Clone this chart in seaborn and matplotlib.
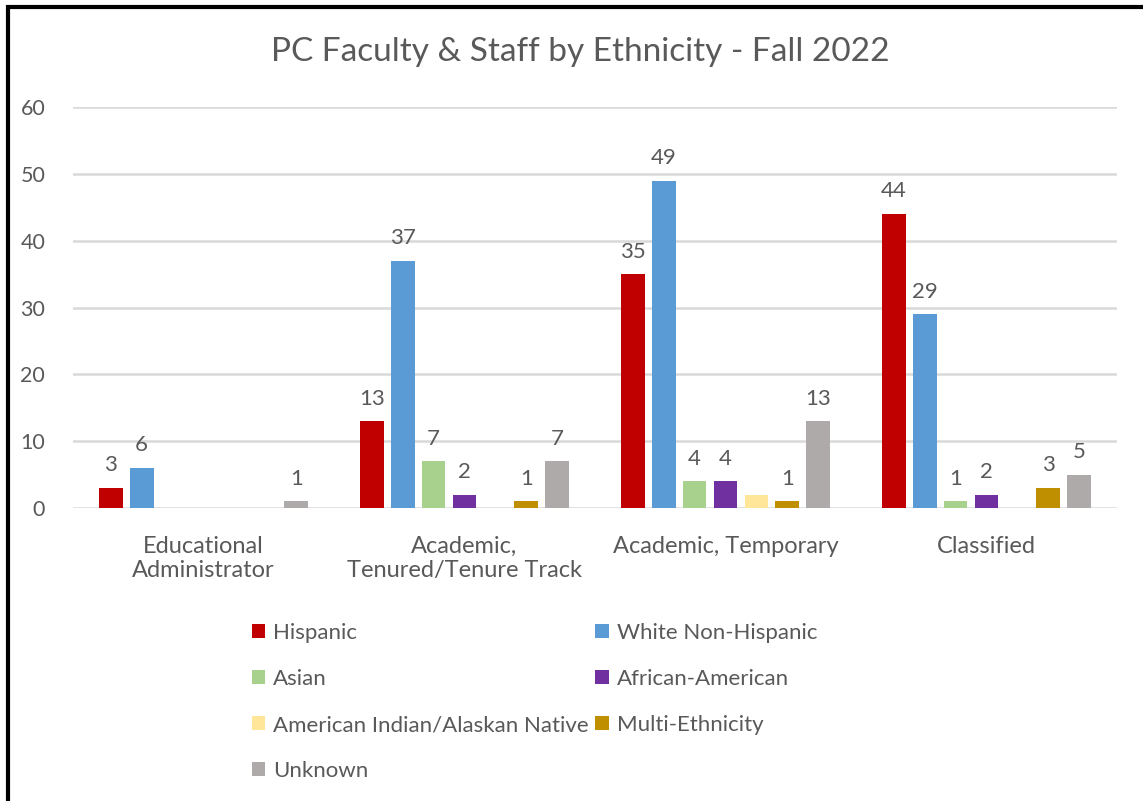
import matplotlib
matplotlib.use("Agg")
import matplotlib.pyplot as plt
from matplotlib.lines import Line2D
import seaborn as sns
import pandas as pd

categories = ["Educational\nAdministrator", "Academic,\nTenured/Tenure Track",
              "Academic, Temporary", "Classified"]
ethnicities = ["Hispanic", "White Non-Hispanic", "Asian", "African-American",
               "American Indian/Alaskan Native", "Multi-Ethnicity", "Unknown"]
hispanic = [3, 13, 35, 44]
white = [6, 37, 49, 29]
asian = [0, 7, 4, 1]
african = [0, 2, 4, 2]
am_indian = [0, 0, 2, 0]
multi = [0, 1, 1, 3]
unknown = [1, 7, 13, 5]
colors = ["#C00000", "#5B9BD5", "#A9D18E", "#7030A0", "#FFE699", "#BF8F00", "#AEAAAA"]

series = [hispanic, white, asian, african, am_indian, multi, unknown]
rows = []
for eth, vals in zip(ethnicities, series):
    for cat, v in zip(categories, vals):
        rows.append({"Category": cat, "Ethnicity": eth, "Count": v})
df = pd.DataFrame(rows)

sns.set_theme(style="white")
plt.rcParams["font.family"] = ["Lato", "DejaVu Sans"]
txt = "#595959"

fig = plt.figure(figsize=(11.43, 8.01), dpi=100)
ax = fig.add_axes([73 / 1143, 1 - 508 / 801, (1117 - 73) / 1143, (508 - 107) / 801])

sns.barplot(data=df, x="Category", y="Count", hue="Ethnicity", order=categories,
            hue_order=ethnicities, palette=colors, width=0.83, gap=0.23,
            linewidth=0, saturation=1, ax=ax, legend=True)

ax.set_ylim(0, 60)
ax.set_yticks(range(0, 61, 10))
ax.yaxis.grid(True, color="#D9D9D9", linewidth=1.8)
ax.set_axisbelow(True)
for s in ax.spines.values():
    s.set_visible(False)
ax.set_xlabel("")
ax.set_ylabel("")
ax.tick_params(axis="y", colors=txt, labelsize=15.5, length=0, pad=20)
ax.tick_params(axis="x", colors=txt, labelsize=17, length=0, pad=20)
ax.set_xlim(-0.5, 3.5)

# data labels
for i, cont in enumerate(ax.containers):
    labels = []
    for v in series[i]:
        if v == 0 or ethnicities[i] == "American Indian/Alaskan Native":
            labels.append("")
        else:
            labels.append(str(v))
    ax.bar_label(cont, labels=labels, padding=9, color=txt, fontsize=16)

handles, labs = ax.get_legend_handles_labels()
ax.get_legend().remove()
order = [0, 2, 4, 6, 1, 3, 5]
fig.legend([handles[k] for k in order], [labs[k] for k in order],
           loc="upper left", bbox_to_anchor=(232 / 1143, 1 - 603 / 801),
           ncol=2, frameon=False, fontsize=16, labelcolor=txt,
           handlelength=0.6, handleheight=0.6, handletextpad=0.35,
           columnspacing=0.3, labelspacing=1.17)

fig.text(0.508, 1 - 52 / 801, "PC Faculty & Staff by Ethnicity - Fall 2022",
         ha="center", va="center", fontsize=24, color=txt)

# frame lines (top and left)
fig.add_artist(Line2D([7.5 / 1143, 7.5 / 1143], [0, 1 - 5 / 801], color="black", linewidth=3,
                      transform=fig.transFigure, solid_capstyle="butt"))
fig.add_artist(Line2D([6 / 1143, 1], [1 - 6.5 / 801, 1 - 6.5 / 801], color="black", linewidth=3,
                      transform=fig.transFigure, solid_capstyle="butt"))

fig.savefig("out.png", dpi=100, facecolor="white")
